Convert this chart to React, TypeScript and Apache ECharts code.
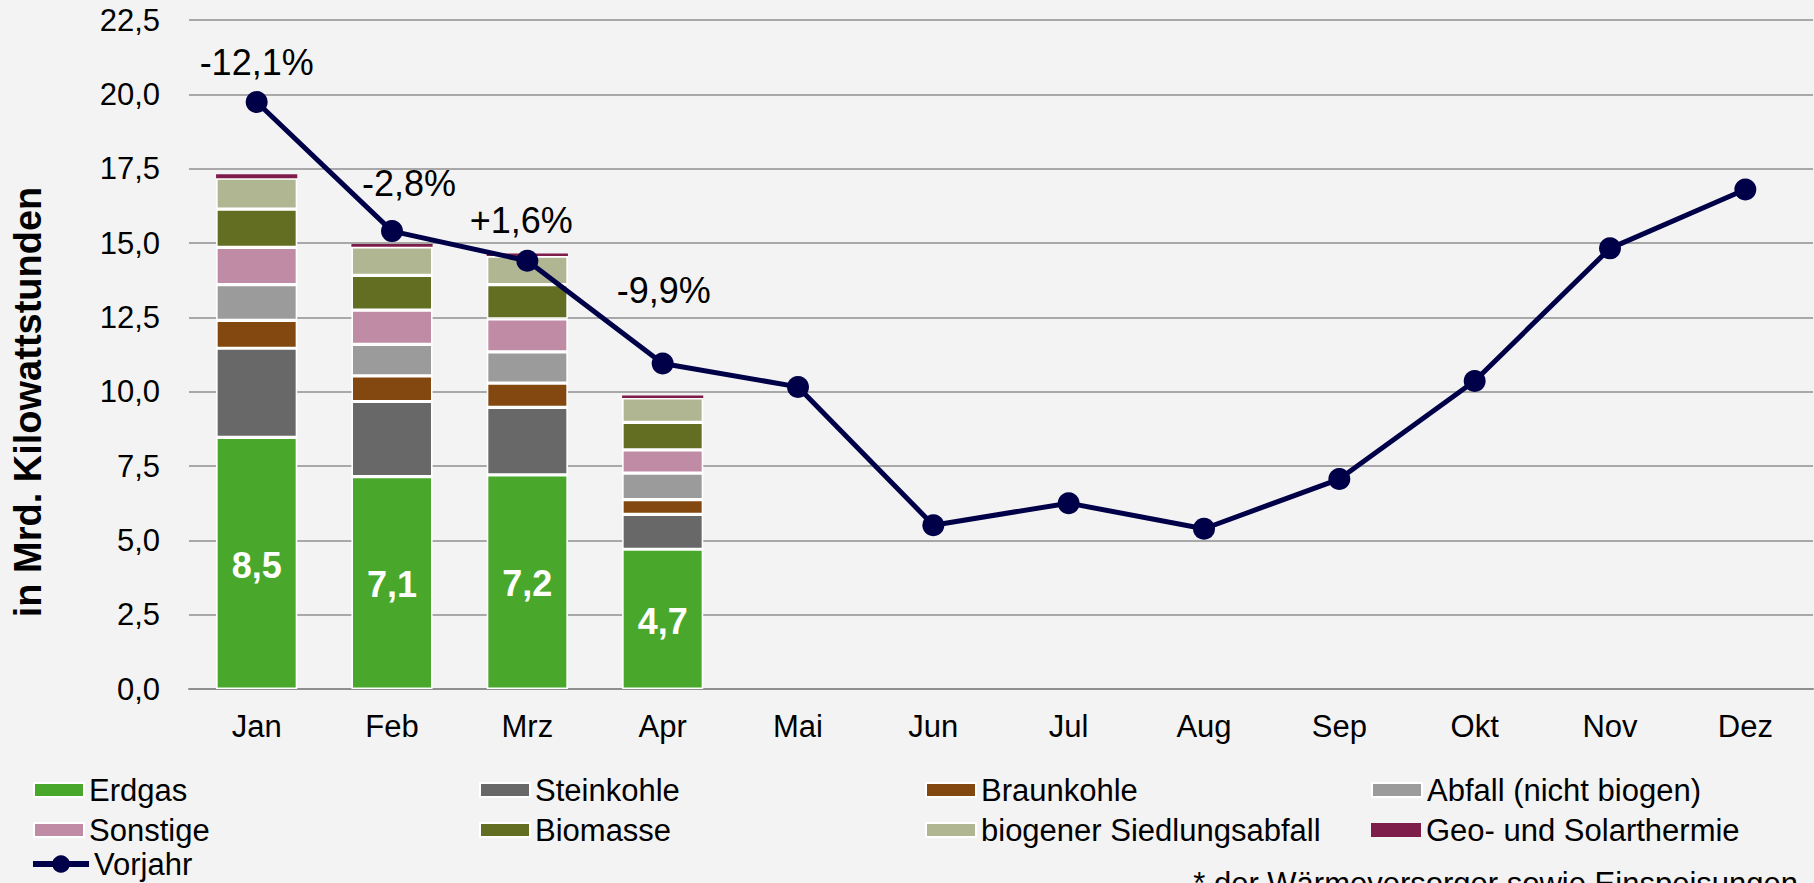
import React, { useEffect, useRef } from "react";
import * as echarts from "echarts";

const months = ["Jan", "Feb", "Mrz", "Apr", "Mai", "Jun", "Jul", "Aug", "Sep", "Okt", "Nov", "Dez"];

const erdgas = [8.46, 7.14, 7.2, 4.7];
const steinkohle = [3.0, 2.53, 2.27, 1.17];
const braunkohle = [0.94, 0.86, 0.82, 0.5];
const abfall = [1.2, 1.06, 1.05, 0.89];
const sonstige = [1.25, 1.15, 1.11, 0.78];
const biomasse = [1.29, 1.17, 1.15, 0.93];
const siedlungsabfall = [1.04, 0.96, 0.96, 0.82];
const geoSolar = [0.13, 0.1, 0.09, 0.08];

const vorjahr = [19.74, 15.4, 14.4, 10.95, 10.16, 5.51, 6.25, 5.39, 7.06, 10.36, 14.82, 16.8];
const changeLabels = ["-12,1%", "-2,8%", "+1,6%", "-9,9%"];

const yTicks = { min: 0, max: 22.5, interval: 2.5 };

const FONT = "'Liberation Sans', Arial, Helvetica, sans-serif";

const barSeriesDefs = [
  { name: "Erdgas", data: erdgas, color: "#49a82b" },
  { name: "Steinkohle", data: steinkohle, color: "#686868" },
  { name: "Braunkohle", data: braunkohle, color: "#83480f" },
  { name: "Abfall (nicht biogen)", data: abfall, color: "#9b9b9b" },
  { name: "Sonstige", data: sonstige, color: "#c08ca5" },
  { name: "Biomasse", data: biomasse, color: "#636e23" },
  { name: "biogener Siedlungsabfall", data: siedlungsabfall, color: "#b1b692" },
  { name: "Geo- und Solarthermie", data: geoSolar, color: "#7e1c4a" },
];

const labelOffsets: number[][] = [
  [0, -40],
  [17, -48],
  [-6, -40],
  [1, -73],
];

const fmt = (v: number) => v.toFixed(1).replace(".", ",");

export default function App() {
  const ref = useRef<HTMLDivElement>(null);

  useEffect(() => {
    if (!ref.current) return;
    const chart = echarts.init(ref.current, undefined, { renderer: "svg" });

    const lastIdx = barSeriesDefs.length - 1;
    const barSeries = barSeriesDefs.map((d, idx) => ({
      name: d.name,
      type: "bar",
      stack: "total",
      barWidth: "60%",
      data: d.data,
      itemStyle: {
        color: d.color,
        borderColor: "#ffffff",
        borderWidth: idx === lastIdx ? 0 : 1.6,
      },
      label:
        idx === 0
          ? {
              show: true,
              position: "inside",
              formatter: (p: any) => fmt(p.value),
              color: "#ffffff",
              fontSize: 36,
              fontWeight: "bold",
              fontFamily: FONT,
              offset: [0, 2],
            }
          : { show: false },
      emphasis: { disabled: true },
      z: 2,
    }));

    const lineData = vorjahr.map((v, i) =>
      changeLabels[i]
        ? {
            value: v,
            label: {
              show: true,
              position: "inside",
              formatter: changeLabels[i],
              offset: labelOffsets[i],
              color: "#000000",
              fontSize: 36,
              fontFamily: FONT,
            },
          }
        : { value: v }
    );

    const option: any = {
      animation: false,
      backgroundColor: "#f3f3f3",
      textStyle: { fontFamily: FONT },
      grid: { left: 189, right: 1, top: 20, bottom: 194, containLabel: false },
      xAxis: {
        type: "category",
        data: months,
        axisLine: { show: true, lineStyle: { color: "#8f8f8f", width: 2 } },
        axisTick: { show: false },
        axisLabel: { color: "#000000", fontSize: 31, margin: 22, fontFamily: FONT },
      },
      yAxis: {
        type: "value",
        min: yTicks.min,
        max: yTicks.max,
        interval: yTicks.interval,
        axisLine: { show: false },
        axisTick: { show: false },
        splitLine: { lineStyle: { color: "#a8a8a8", width: 2 } },
        axisLabel: {
          color: "#000000",
          fontSize: 31,
          margin: 29,
          fontFamily: FONT,
          formatter: (v: number) => fmt(v),
        },
      },
      legend: [
        {
          left: 33,
          top: 770,
          padding: 0,
          width: 1790,
          orient: "horizontal",
          itemWidth: 50,
          itemHeight: 14,
          itemGap: 0,
          icon: "rect",
          selectedMode: false,
          textStyle: { fontSize: 31, color: "#000000", width: 390, lineHeight: 40, fontFamily: FONT },
          data: barSeriesDefs.map((d) => d.name),
        },
        {
          left: 30,
          top: 846,
          padding: 0,
          itemWidth: 56,
          itemHeight: 22,
          itemGap: 0,
          selectedMode: false,
          textStyle: { fontSize: 31, color: "#000000", lineHeight: 36, fontFamily: FONT },
          data: [{ name: "Vorjahr", lineStyle: { width: 6 } }],
        },
      ],
      graphic: [
        {
          type: "text",
          x: 28,
          y: 402,
          rotation: Math.PI / 2,
          style: {
            text: "in Mrd. Kilowattstunden",
            fontSize: 38,
            fontWeight: "bold",
            fontFamily: FONT,
            fill: "#000000",
            align: "center",
            verticalAlign: "middle",
          },
        },
        {
          type: "text",
          x: 1798,
          y: 883,
          style: {
            text: "* der Wärmeversorger sowie Einspeisungen",
            fontSize: 31,
            fontFamily: FONT,
            fill: "#000000",
            align: "right",
            verticalAlign: "middle",
          },
        },
      ],
      series: [
        ...barSeries,
        {
          name: "Vorjahr",
          type: "line",
          data: lineData,
          symbol: "circle",
          symbolSize: 22,
          itemStyle: { color: "#000048" },
          lineStyle: { color: "#000048", width: 5 },
          emphasis: { disabled: true },
          z: 5,
        },
      ],
    };

    chart.setOption(option);
    return () => chart.dispose();
  }, []);

  return (
    <div
      ref={ref}
      style={{ position: "fixed", left: 0, top: 0, width: 1814, height: 883, background: "#f3f3f3" }}
    />
  );
}
